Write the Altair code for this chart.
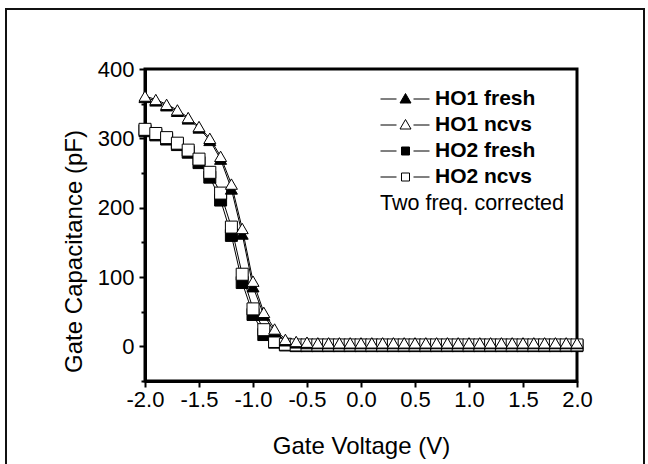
import altair as alt
import pandas as pd

# ---- data ----
gate_voltage = [-2.0, -1.9, -1.8, -1.7, -1.6, -1.5, -1.4, -1.3, -1.2, -1.1,
                -1.0, -0.9, -0.8, -0.7, -0.6, -0.5, -0.4, -0.3, -0.2, -0.1,
                0.0, 0.1, 0.2, 0.3, 0.4, 0.5, 0.6, 0.7, 0.8, 0.9,
                1.0, 1.1, 1.2, 1.3, 1.4, 1.5, 1.6, 1.7, 1.8, 1.9, 2.0]

ho1_fresh = [359, 354, 347, 339, 328, 315, 297, 270, 227, 162,
             86, 45, 21, 8, 5, 4, 4, 4, 4, 4,
             4, 4, 4, 4, 4, 4, 4, 4, 4, 4,
             4, 4, 4, 4, 4, 4, 4, 4, 4, 4, 4]
ho1_ncvs = [361, 356, 349, 341, 330, 317, 300, 274, 234, 170,
            94, 49, 25, 10, 7, 6, 5, 5, 5, 5,
            5, 5, 5, 5, 5, 5, 5, 5, 5, 5,
            5, 5, 5, 5, 5, 5, 5, 5, 5, 5, 5]
ho2_fresh = [311, 305, 299, 291, 280, 265, 244, 211, 160, 92,
             46, 17, 6, 2, 1, 1, 1, 1, 1, 1,
             1, 1, 1, 1, 1, 1, 1, 1, 1, 1,
             1, 1, 1, 1, 1, 1, 1, 1, 1, 1, 1]
ho2_ncvs = [313, 307, 301, 293, 283, 270, 251, 221, 172, 104,
            54, 24, 7, 3, 2, 2, 2, 2, 2, 2,
            2, 2, 2, 2, 2, 2, 2, 2, 2, 2,
            2, 2, 2, 2, 2, 2, 2, 2, 2, 2, 2]

series_names = ["HO1 fresh", "HO1 ncvs", "HO2 fresh", "HO2 ncvs"]
x_ticks = [-2.0, -1.5, -1.0, -0.5, 0.0, 0.5, 1.0, 1.5, 2.0]
y_ticks = [-50, 0, 50, 100, 150, 200, 250, 300, 350, 400]

rows = []
for name, vals in [("HO2 fresh", ho2_fresh), ("HO2 ncvs", ho2_ncvs),
                   ("HO1 fresh", ho1_fresh), ("HO1 ncvs", ho1_ncvs)]:
    for v, c in zip(gate_voltage, vals):
        rows.append({"V": v, "C": c, "series": name})
df = pd.DataFrame(rows)

FONT = "Liberation Sans"

x_axis = alt.Axis(values=x_ticks, title="Gate Voltage (V)",
                  labelExpr="replace(format(datum.value, '.1f'), '\u2212', '-')",
                  labelFontSize=22, titleFontSize=24, tickSize=6, labelPadding=2,
                  titlePadding=24, labelFlush=False, labelOverlap=False)
y_axis = alt.Axis(values=y_ticks, title="Gate Capacitance (pF)",
                  labelExpr="datum.value % 100 === 0 ? datum.label : ''",
                  labelFontSize=22, titleFontSize=24,
                  tickSize={"condition": {"test": "datum.value % 100 !== 0", "value": 4}, "value": 6},
                  labelPadding=5, titlePadding=11, titleY=182,
                  labelFlush=False, labelOverlap=False)

base = alt.Chart(df).encode(
    x=alt.X("V:Q", scale=alt.Scale(domain=[-2, 2], nice=False, zero=False), axis=x_axis),
    y=alt.Y("C:Q", scale=alt.Scale(domain=[-50, 400], nice=False, zero=False), axis=y_axis),
)

lines = base.mark_line(color="black", strokeWidth=1).encode(detail="series:N")

points = base.mark_point(filled=True, opacity=1, stroke="black", strokeWidth=1).encode(
    shape=alt.Shape("series:N", scale=alt.Scale(domain=series_names,
                    range=["triangle-up", "triangle-up", "square", "square"]), legend=None),
    fill=alt.Fill("series:N", scale=alt.Scale(domain=series_names,
                  range=["black", "white", "black", "white"]), legend=None),
    size=alt.Size("series:N", scale=alt.Scale(domain=series_names,
                  range=[144, 144, 81, 81]), legend=None),
)

tri_path = "M-1,0H0.6M2.3,0H3.9M1.5,-0.55L2.05,0.4L0.95,0.4Z"
sq_path = "M-1,0H0.6M2.3,0H3.9M1.1,-0.4H1.9V0.4H1.1Z"

legend_def = alt.Legend(
    orient="none", legendX=235, legendY=17, padding=0, rowPadding=0,
    clipHeight=26, symbolSize=400, symbolStrokeWidth=1, symbolStrokeColor="black",
    labelFont=FONT, labelFontSize=21, labelFontWeight="bold", labelColor="black",
    labelOffset=34, labelLimit=300,
    title="Two freq. corrected", titleOrient="bottom", titleAnchor="start",
    titleFont=FONT, titleFontSize=21.5, titleFontWeight="normal", titleColor="black",
    titlePadding=3, titleLimit=400,
)

legend_layer = base.transform_filter("false").mark_point(
    filled=True, opacity=1, strokeWidth=1, size=400
).encode(
    shape=alt.Shape("series:N", scale=alt.Scale(domain=series_names,
                    range=[tri_path, tri_path, sq_path, sq_path]), legend=legend_def),
    fill=alt.Fill("series:N", scale=alt.Scale(domain=series_names,
                  range=["black", "white", "black", "white"]), legend=legend_def),
    stroke=alt.Stroke("series:N", scale=alt.Scale(domain=series_names,
                      range=["black", "black", "black", "black"]), legend=legend_def),
)

frame = alt.Chart(alt.Data(values=[{}])).mark_rect(
    fillOpacity=0, stroke="#111111", strokeWidth=2
).encode(x=alt.value(-139), x2=alt.value(499), y=alt.value(-60), y2=alt.value(402))

chart = alt.layer(frame, lines, points, legend_layer).resolve_scale(
    shape="independent", fill="independent", size="independent", stroke="independent"
).properties(
    width=432, height=312,
    autosize=alt.AutoSizeParams(type="none"),
    padding={"left": 145, "top": 69, "right": 71, "bottom": 83},
    background="white",
).configure_view(
    stroke="black", strokeWidth=3
).configure_axis(
    domainColor="black", domainWidth=3, tickColor="black", tickWidth=2,
    labelColor="black", titleColor="black", labelFont=FONT, titleFont=FONT,
    titleFontWeight="normal", grid=False,
)

chart.save("out.html", embed_options={"renderer": "svg", "actions": False})
